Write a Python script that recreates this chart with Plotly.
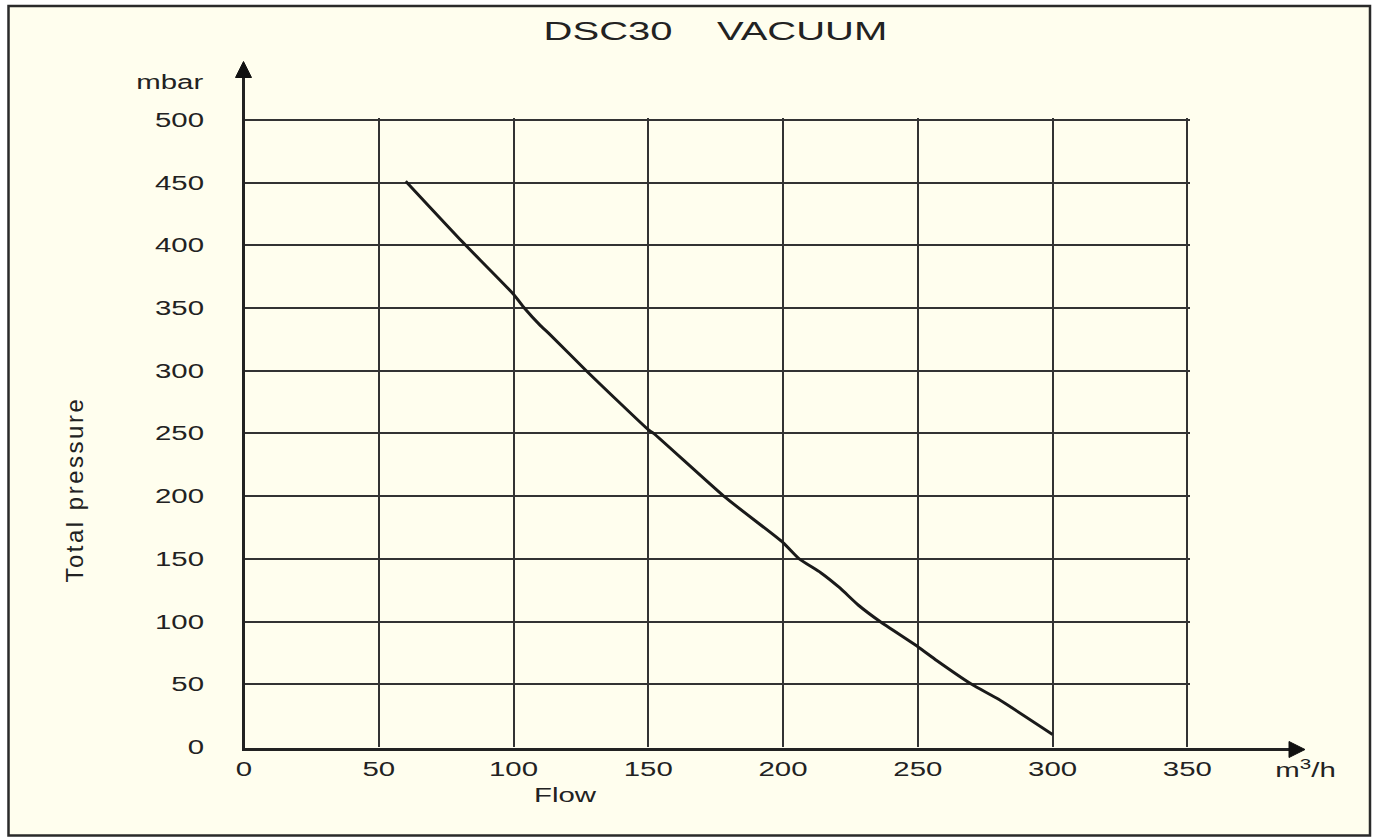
import plotly.graph_objects as go

# ---- data ----
flow = [60, 80, 100, 104, 110, 113, 127, 150, 152, 178, 200, 206, 214, 221, 228, 236, 250, 257, 270, 280, 300]
pressure = [451, 405, 361, 350, 336, 330, 300, 253, 250, 200, 163, 150, 139, 127, 113, 100, 80, 69, 50, 38, 10]

x_ticks = [0, 50, 100, 150, 200, 250, 300, 350]
x_labels = [str(v) for v in x_ticks]
y_ticks = [0, 50, 100, 150, 200, 250, 300, 350, 400, 450, 500]
y_labels = [str(v) for v in y_ticks]

title_text = "DSC30\u00a0\u00a0\u00a0\u00a0VACUUM"
x_title = "Flow"
x_unit = "m<sup>3</sup>/h"
y_title = "Total pressure"
y_unit = "mbar"

# ---- layout geometry (pixels) ----
W, H = 1377, 837
L, R, T, B = 244, 187, 118, 90
PW, PH = W - L - R, H - T - B

def px(x):
    return (x - L) / PW

def py(y):
    return (H - B - y) / PH

FONT = "Liberation Sans, Arial, sans-serif"
INK = "#222222"
CREAM = "#FFFEEE"

fig = go.Figure()
fig.add_trace(go.Scatter(x=flow, y=pressure, mode="lines",
                         line=dict(color="#1a1a1a", width=3, shape="spline", smoothing=0.5),
                         hoverinfo="skip", showlegend=False))

fig.update_layout(
    width=W, height=H,
    margin=dict(l=L, r=R, t=T, b=B, pad=0),
    paper_bgcolor="white",
    plot_bgcolor="rgba(0,0,0,0)",
    showlegend=False,
    font=dict(family=FONT, size=20, color=INK),
    xaxis=dict(range=[0, 351], tickvals=x_ticks, ticktext=x_labels,
               showgrid=True, gridcolor="#333333", gridwidth=1.5,
               zeroline=False, showline=False, ticks="",
               tickfont=dict(family=FONT, size=20, color=INK),
               ticklabelstandoff=8, fixedrange=True),
    yaxis=dict(range=[0, 501.5], tickvals=y_ticks, ticktext=y_labels,
               showgrid=True, gridcolor="#333333", gridwidth=1.5,
               zeroline=False, showline=False, ticks="",
               tickfont=dict(family=FONT, size=20, color=INK),
               ticklabelstandoff=39, fixedrange=True),
)

shapes = []
# frame with cream fill
shapes.append(dict(type="rect", xref="paper", yref="paper", layer="below",
                   x0=px(8.5), x1=px(1370), y0=py(835.5), y1=py(6),
                   line=dict(color="#2a2a2a", width=2.5), fillcolor=CREAM))
# x axis line + arrow
ax_y = 749.5
shapes.append(dict(type="line", xref="paper", yref="paper", layer="above",
                   x0=px(242), x1=px(1292), y0=py(ax_y), y1=py(ax_y),
                   line=dict(color="#222222", width=3)))
shapes.append(dict(type="path", xref="paper", yref="paper", layer="above",
                   path=f"M {px(1289)} {py(741.5)} L {px(1305)} {py(ax_y)} L {px(1289)} {py(757.5)} Z",
                   fillcolor="#111111", line=dict(color="#111111", width=1)))
# y axis line + arrow
ax_x = 243.5
shapes.append(dict(type="line", xref="paper", yref="paper", layer="above",
                   x0=px(ax_x), x1=px(ax_x), y0=py(751), y1=py(75),
                   line=dict(color="#222222", width=3)))
shapes.append(dict(type="path", xref="paper", yref="paper", layer="above",
                   path=f"M {px(235.5)} {py(77.5)} L {px(ax_x)} {py(61.5)} L {px(251.5)} {py(77.5)} Z",
                   fillcolor="#111111", line=dict(color="#111111", width=1)))
fig.update_layout(shapes=shapes)

ann = []
ann.append(dict(text=title_text, x=px(715), y=py(31), xref="paper", yref="paper",
                showarrow=False, xanchor="center", yanchor="middle",
                font=dict(family=FONT, size=25, color=INK)))
ann.append(dict(text=y_unit, x=px(170), y=py(82), xref="paper", yref="paper",
                showarrow=False, xanchor="center", yanchor="middle",
                font=dict(family=FONT, size=20, color=INK)))
ann.append(dict(text=x_title, x=px(565), y=py(795), xref="paper", yref="paper",
                showarrow=False, xanchor="center", yanchor="middle",
                font=dict(family=FONT, size=20, color=INK)))
ann.append(dict(text=x_unit, x=px(1305), y=py(768), xref="paper", yref="paper",
                showarrow=False, xanchor="center", yanchor="middle",
                font=dict(family=FONT, size=20, color=INK)))
ann.append(dict(text=y_title, x=px(74), y=py(490), xref="paper", yref="paper",
                showarrow=False, xanchor="center", yanchor="middle", textangle=-90,
                font=dict(family=FONT, size=24, color=INK)))
fig.update_layout(annotations=ann)

# the reference uses a horizontally wide typeface: widen glyphs in place
post = """
document.body.style.margin='0';
document.body.style.overflow='hidden';
var gd=document.getElementById('{plot_id}');
function sx(){
  gd.querySelectorAll('text').forEach(function(t){
    var s=t.textContent;
    if(!s) return;
    if(s.indexOf('Total')>=0){ t.style.letterSpacing='2.5px'; return; }
    var cur=t.getAttribute('transform')||'';
    if(t.__sxApplied!==undefined && cur===t.__sxApplied) return;
    var k = s.indexOf('VACUUM')>=0 ? 1.6 : 1.47;
    var b=t.getBBox();
    if(!b.width) return;
    var a=t.getAttribute('text-anchor')||'start';
    var cx = a==='end' ? b.x+b.width : (a==='middle' ? b.x+b.width/2 : b.x);
    var nt=cur+' translate('+cx+',0) scale('+k+',1) translate('+(-cx)+',0)';
    t.setAttribute('transform', nt);
    t.__sxApplied=t.getAttribute('transform');
  });
}
sx();
if (gd.on) { gd.on('plotly_afterplot', sx); }
setTimeout(sx, 50);
"""

fig.write_html("out.html", post_script=post, config={"displayModeBar": False})
